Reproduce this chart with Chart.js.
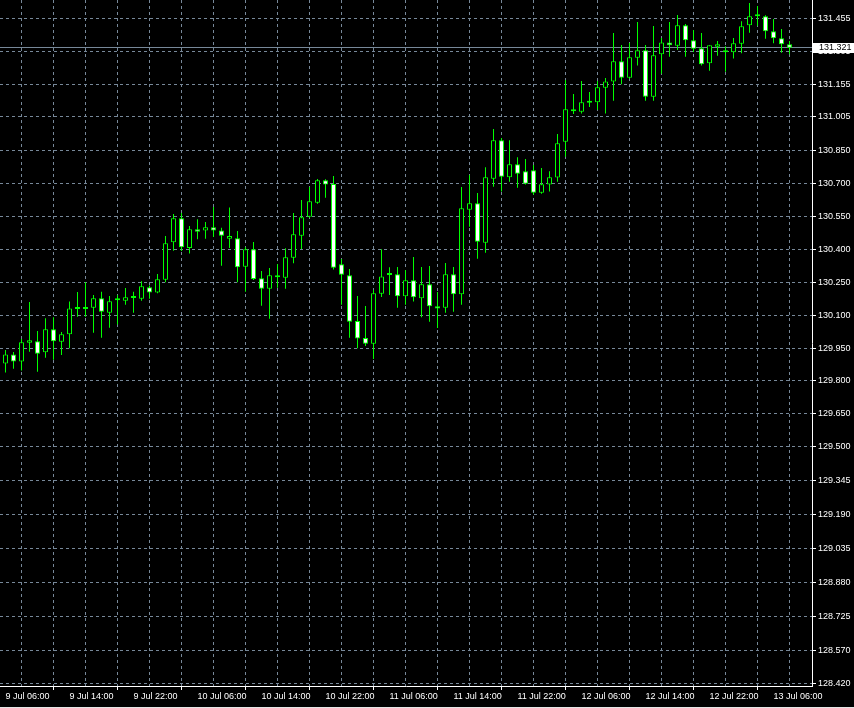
<!DOCTYPE html>
<html><head><meta charset="utf-8">
<script src="https://cdn.jsdelivr.net/npm/chart.js@4.4.1/dist/chart.umd.min.js"></script>
<style>html,body{margin:0;padding:0;background:#000;overflow:hidden}canvas{display:block}</style>
</head><body>
<canvas id="c" width="854" height="708"></canvas>
<script>
// ---- data (H1 candles, 9 Jul 06:00 .. 13 Jul 08:00) ----
const xTickLabels = ['9 Jul 06:00','9 Jul 14:00','9 Jul 22:00','10 Jul 06:00','10 Jul 14:00','10 Jul 22:00','11 Jul 06:00','11 Jul 14:00','11 Jul 22:00','12 Jul 06:00','12 Jul 14:00','12 Jul 22:00','13 Jul 06:00'];
const yTickValues = [131.455,131.305,131.155,131.005,130.850,130.700,130.550,130.400,130.250,130.100,129.950,129.800,129.650,129.500,129.345,129.190,129.035,128.880,128.725,128.570,128.420];
const yMin = 128.4075, yMax = 131.5385;

const opens = [129.879,129.921,129.888,129.974,129.981,129.931,130.036,129.979,130.013,130.128,
130.128,130.134,130.177,130.111,130.168,130.166,130.178,130.175,130.227,130.203,
130.262,130.433,130.542,130.407,130.492,130.487,130.501,130.487,130.449,130.451,
130.321,130.401,130.268,130.221,130.280,130.271,130.362,130.463,130.549,130.613,
130.716,130.699,130.332,130.282,130.073,129.996,129.970,130.198,130.283,130.287,
130.186,130.259,130.177,130.241,130.141,130.134,130.287,130.195,130.581,130.611,
130.431,130.723,130.898,130.729,130.789,130.757,130.761,130.659,130.696,130.728,
130.892,131.040,131.029,131.070,131.072,131.138,131.166,131.259,131.184,131.275,
131.309,131.097,131.291,131.345,131.330,131.423,131.355,131.318,131.250,131.325,
131.309,131.300,131.339,131.423,131.464,131.464,131.396,131.364,131.336];
const highs = [129.941,129.932,129.991,130.160,130.028,130.086,130.090,130.023,130.162,130.206,
130.250,130.192,130.207,130.188,130.192,130.224,130.207,130.255,130.236,130.288,
130.461,130.562,130.566,130.507,130.538,130.525,130.594,130.499,130.592,130.484,
130.411,130.434,130.302,130.315,130.334,130.405,130.566,130.626,130.685,130.722,
130.720,130.735,130.356,130.311,130.188,130.142,130.215,130.401,130.319,130.320,
130.306,130.366,130.320,130.325,130.206,130.338,130.320,130.685,130.740,130.658,
130.775,130.950,130.909,130.898,130.821,130.813,130.785,130.772,130.757,130.927,
131.173,131.110,131.169,131.119,131.169,131.183,131.388,131.333,131.342,131.438,
131.333,131.420,131.365,131.438,131.470,131.429,131.402,131.388,131.332,131.351,
131.327,131.365,131.441,131.525,131.511,131.469,131.452,131.406,131.351];
const lows = [129.838,129.856,129.847,129.933,129.842,129.906,129.897,129.918,129.949,130.093,
130.093,130.020,129.997,130.043,130.057,130.148,130.111,130.166,130.175,130.200,
130.250,130.394,130.393,130.381,130.446,130.449,130.457,130.326,130.407,130.250,
130.207,130.261,130.143,130.084,130.225,130.221,130.337,130.402,130.545,130.609,
130.636,130.308,130.148,129.997,129.949,129.959,129.900,130.183,130.192,130.134,
130.148,130.162,130.090,130.070,130.042,130.111,130.116,130.148,130.504,130.358,
130.385,130.686,130.664,130.709,130.682,130.696,130.650,130.654,130.664,130.709,
130.823,131.018,131.020,131.050,131.038,131.020,131.079,131.154,131.179,131.239,
131.079,131.079,131.202,131.280,131.310,131.280,131.301,131.239,131.216,131.284,
131.211,131.271,131.295,131.389,131.421,131.362,131.341,131.298,131.291];
const closes = [129.921,129.888,129.976,129.985,129.924,130.036,129.981,130.013,130.131,130.128,
130.128,130.177,130.116,130.163,130.168,130.182,130.178,130.232,130.204,130.264,
130.428,130.542,130.410,130.492,130.481,130.501,130.486,130.463,130.461,130.319,
130.401,130.265,130.221,130.282,130.273,130.364,130.469,130.547,130.620,130.716,
130.696,130.317,130.285,130.070,129.993,129.970,130.200,130.277,130.283,130.186,
130.259,130.182,130.241,130.141,130.130,130.287,130.195,130.588,130.611,130.435,
130.729,130.898,130.732,130.789,130.746,130.700,130.659,130.697,130.729,130.885,
131.040,131.031,131.072,131.070,131.140,131.167,131.259,131.184,131.277,131.309,
131.097,131.286,131.345,131.332,131.423,131.355,131.316,131.245,131.332,131.336,
131.300,131.341,131.419,131.464,131.464,131.396,131.364,131.336,131.321];

// ---- styling ----
const GREEN = '#00ff00';
const GRID = 'rgb(119,136,153)';
const FONT = {family: "'Liberation Sans', Arial, sans-serif", size: 9};
const HOURS_PER_LABEL = 8, HOURS_PER_GRID = 4;

const idx = opens.map((_, i) => i);
const wickData = idx.map(i => ({x: i, y: [lows[i], highs[i]]}));
const bodyData = idx.map(i => ({x: i, y: [opens[i], closes[i]]}));
const bodyFill = idx.map(i => closes[i] > opens[i] ? '#000000' : '#ffffff');

const xMin = -0.6875, xMax = 100.8125;

const bgPlugin = {
  id: 'bg',
  beforeDraw(chart) {
    const {ctx, width, height} = chart;
    ctx.save(); ctx.fillStyle = '#000'; ctx.fillRect(0, 0, width, height); ctx.restore();
  },
  beforeDatasetsDraw(chart) {
    const {ctx, chartArea, scales} = chart;
    const y = Math.floor(scales.y.getPixelForValue(closes[closes.length - 1])) + 0.5;
    ctx.save();
    ctx.strokeStyle = GRID; ctx.lineWidth = 1;
    ctx.beginPath(); ctx.moveTo(chartArea.left, y); ctx.lineTo(chartArea.right, y); ctx.stroke();
    ctx.restore();
  },
  afterDraw(chart) {
    const {ctx, chartArea, scales, width, height} = chart;
    const last = closes[closes.length - 1];
    const y = Math.floor(scales.y.getPixelForValue(last));
    ctx.save();
    ctx.fillStyle = '#ffffff';
    ctx.fillRect(chartArea.right + 1, y - 4, width - chartArea.right - 1, 10);
    ctx.fillStyle = '#000000';
    ctx.font = "9px 'Liberation Sans', Arial, sans-serif";
    ctx.textBaseline = 'middle';
    ctx.textAlign = 'left';
    ctx.fillText(last.toFixed(3), chartArea.right + 7, y + 1);
    ctx.fillStyle = '#e4e4e4';
    ctx.fillRect(0, height - 1, width, 1);
    ctx.restore();
  }
};

new Chart(document.getElementById('c'), {
  type: 'bar',
  data: {
    datasets: [
      {data: wickData, backgroundColor: GREEN, borderWidth: 0, barThickness: 1, grouped: false, inflateAmount: 0, order: 2},
      {data: bodyData, backgroundColor: bodyFill, borderColor: GREEN, borderWidth: 1, borderSkipped: false,
       barThickness: 5, minBarLength: 2, grouped: false, inflateAmount: 0, order: 1}
    ]
  },
  options: {
    responsive: false,
    animation: false,
    devicePixelRatio: 1,
    events: [],
    layout: {padding: 0},
    plugins: {legend: {display: false}, tooltip: {enabled: false}},
    scales: {
      x: {
        type: 'linear', position: 'bottom', min: xMin, max: xMax, offset: false,
        afterBuildTicks: s => {
          const t = [];
          for (let v = 0; v <= xMax; v += HOURS_PER_GRID) t.push({value: v});
          s.ticks = t;
        },
        afterFit: s => { s.height = 22; s.paddingLeft = 0; s.paddingRight = 0; s.paddingTop = 0; s.paddingBottom = 0; },
        grid: {color: GRID, lineWidth: 1, tickLength: 4, tickWidth: 1,
               tickColor: c => (c.tick && c.tick.value % HOURS_PER_LABEL === 0) ? '#ffffff' : 'rgba(0,0,0,0)'},
        border: {display: true, color: '#ffffff', width: 1, dash: [3, 3]},
        ticks: {autoSkip: false, maxRotation: 0, minRotation: 0, align: 'start', padding: 1, color: '#ffffff', font: FONT,
                callback: v => (v % HOURS_PER_LABEL === 0 && xTickLabels[v / HOURS_PER_LABEL]) ? xTickLabels[v / HOURS_PER_LABEL] : ''}
      },
      y: {
        type: 'linear', position: 'right', min: yMin, max: yMax,
        afterBuildTicks: s => { s.ticks = yTickValues.map(v => ({value: v})); },
        afterFit: s => { s.width = 42; s.paddingTop = 0; s.paddingBottom = 0; s.paddingLeft = 0; s.paddingRight = 0; },
        grid: {color: GRID, lineWidth: 1, tickLength: 4, tickWidth: 1, tickColor: '#ffffff'},
        border: {display: true, color: '#ffffff', width: 1, dash: [3, 3]},
        ticks: {autoSkip: false, padding: 2, color: '#ffffff', font: FONT, callback: v => Number(v).toFixed(3)}
      }
    }
  },
  plugins: [bgPlugin]
});
</script>
</body></html>
